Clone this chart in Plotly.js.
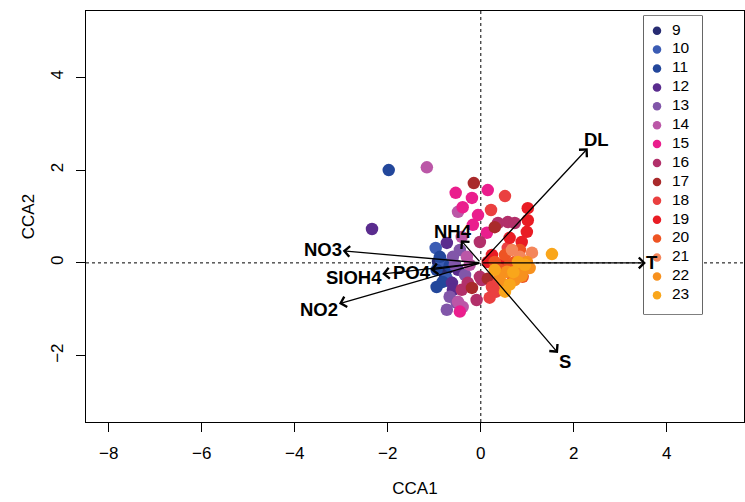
<!DOCTYPE html>
<html><head><meta charset="utf-8">
<script src="https://cdn.plot.ly/plotly-3.0.1.min.js"></script>
<style>html,body{margin:0;padding:0;background:#fff;} #chart{width:745px;height:502px;}</style>
</head><body><div id="chart"></div>
<script>
const groupLabels = ['9','10','11','12','13','14','15','16','17','18','19','20','21','22','23'];
const groupColors = ['#272c72','#3b5cb4','#23479b','#5a2c8e','#8156a9','#bb57a7','#ea1e8d','#b2306a','#a92a2b','#ea4040','#e91c24','#ee5423','#f4865b','#f7911e','#f9a61b'];

const pointGroup = [
 '9','9','9',
 '10','10','10',
 '11','11','11','11','11','11',
 '12','12','12','12','12',
 '13','13','13','13','13','13','13',
 '14','14','14','14','14','14','14',
 '15','15','15','15','15','15','15','15',
 '16','16','16','16','16','16','16','16','16',
 '17','17','17','17',
 '18','18','18','18','18','18','18',
 '19','19','19','19','19','19','19','19',
 '20','20','20','20','20','20','20','20',
 '21','21','21',
 '22','22','22','22','22','22','22','22',
 '23','23','23','23','23','23','23'
];
const pointCCA1 = [
 -0.92,-0.77,-0.71,
 -0.97,-0.84,-0.73,
 -1.98,-0.95,-0.82,-0.95,-0.88,-0.67,
 -2.34,-0.73,-0.62,-0.60,-0.49,
 -0.67,-0.73,-0.52,-0.45,-0.60,-0.34,-0.56,
 -1.16,-0.49,-0.41,-0.30,-0.49,-0.39,-0.24,
 -0.54,-0.19,0.15,-0.39,0.13,-0.45,-0.17,-0.06,
 0.37,0.58,0.73,-0.02,0.02,-0.09,-0.41,-0.02,-0.28,
 -0.15,0.30,-0.19,0.15,
 0.52,0.22,0.24,0.19,0.58,0.37,0.33,
 1.01,1.01,0.99,0.62,0.24,0.41,0.15,0.88,
 0.52,0.73,0.84,0.41,0.62,0.30,0.67,0.90,
 1.10,0.84,0.67,
 0.99,0.56,0.84,0.73,0.41,1.05,0.52,0.88,
 1.53,0.62,0.95,0.52,0.30,0.80,0.70
];
const pointCCA2 = [
 0.02,-0.26,-0.11,
 0.32,0.02,-0.34,
 2.00,-0.15,-0.41,-0.52,0.13,-0.06,
 0.73,0.43,-0.43,-0.58,-0.15,
 -0.73,-1.01,-0.86,0.28,0.13,-0.26,-0.04,
 2.06,1.10,0.56,0.13,-0.84,-0.95,-0.04,
 1.51,1.40,1.57,1.20,0.65,-1.05,0.82,1.03,
 0.86,0.88,0.86,0.45,-0.37,-0.80,-0.58,-0.30,-0.43,
 1.72,0.77,-0.54,-0.34,
 1.44,1.14,-0.52,-0.75,0.32,-0.43,-0.62,
 1.18,0.92,0.67,0.54,0.17,-0.04,0.02,0.45,
 0.17,0.02,0.28,-0.15,-0.04,0.02,-0.26,-0.30,
 0.22,0.13,0.28,
 0.02,-0.19,-0.19,-0.37,-0.30,-0.11,-0.47,-0.28,
 0.19,-0.47,-0.04,-0.62,-0.15,0.02,-0.20
];

const envNames = ['DL','T','S','NO3','SIOH4','PO4','NO2','NH4'];
const envCCA1 = [2.30, 3.55, 1.66, -2.97, -2.12, -1.08, -3.05, -0.43];
const envCCA2 = [2.47, 0.00, -1.94, 0.26, -0.24, -0.15, -0.88, 0.49];

const xTicks = [-8,-6,-4,-2,0,2,4];
const yTicks = [-2,0,2,4];

const xRange = [-8.49, 5.66];
const yRange = [-3.43, 5.43];
const W = 745, H = 502;
const margin = {l:86, r:1, t:11, b:80, pad:0};
const plotW = W - margin.l - margin.r;
const plotH = H - margin.t - margin.b;
const pxX = plotW / (xRange[1]-xRange[0]);
const pxY = plotH / (yRange[1]-yRange[0]);

const traces = groupLabels.map((g, gi) => {
  const xs = [], ys = [];
  pointGroup.forEach((pg, i) => { if (pg === g) { xs.push(pointCCA1[i]); ys.push(pointCCA2[i]); } });
  return {
    type:'scatter', mode:'markers', name:g, x:xs, y:ys, xaxis:'x', yaxis:'y',
    marker:{color:groupColors[gi], size:12.5, line:{width:0}},
    hoverinfo:'skip', showlegend:false
  };
});

// custom legend box (pixel-like coordinates inside its own small axes)
const legBox = {left:644, right:702, top:16, bottom:314};
const legW = legBox.right - legBox.left, legH = legBox.bottom - legBox.top;
const legStep = 18.9, legFirst = 14.7;
const legendDomainX = [(legBox.left - margin.l)/plotW, (legBox.right - margin.l)/plotW];
const legendDomainY = [1 - (legBox.bottom - margin.t)/plotH, 1 - (legBox.top - margin.t)/plotH];
traces.push({
  type:'scatter', mode:'markers', xaxis:'x2', yaxis:'y2', showlegend:false, hoverinfo:'skip',
  x: groupLabels.map(() => 13), y: groupLabels.map((g, i) => legFirst + i*legStep),
  marker:{color:groupColors, size:8.5, line:{width:0}}, cliponaxis:false
});
traces.push({
  type:'scatter', mode:'text', xaxis:'x2', yaxis:'y2', showlegend:false, hoverinfo:'skip',
  x: groupLabels.map(() => 28), y: groupLabels.map((g, i) => legFirst + i*legStep),
  text: groupLabels, textposition:'middle right', cliponaxis:false,
  textfont:{family:'Liberation Sans, Arial, sans-serif', size:15.5, color:'#000'}
});

const labelFont = 'bold 18px "Liberation Sans"';
const cv = document.createElement('canvas').getContext('2d');
cv.font = labelFont;

const annotations = [];
envNames.forEach((nm, i) => {
  annotations.push({
    x: envCCA1[i], y: envCCA2[i], ax: 0, ay: 0,
    xref:'x', yref:'y', axref:'x', ayref:'y',
    showarrow:true, arrowhead:4, arrowsize:1.6, arrowwidth:1.3, arrowcolor:'#000',
    text:'', standoff:0, startstandoff:0
  });
  const dxp = envCCA1[i]*pxX, dyp = envCCA2[i]*pxY;
  const len = Math.hypot(dxp, dyp);
  const ux = dxp/len, uy = dyp/len;
  const hw = cv.measureText(nm).width/2 + 1, hh = 9;
  const t = Math.min(Math.abs(ux) > 1e-6 ? hw/Math.abs(ux) : 1e9, Math.abs(uy) > 1e-6 ? hh/Math.abs(uy) : 1e9);
  annotations.push({
    x: envCCA1[i] + ux*t/pxX, y: envCCA2[i] + uy*t/pxY,
    xref:'x', yref:'y', showarrow:false, text:'<b>'+nm+'</b>',
    xanchor:'center', yanchor:'middle',
    font:{family:'Liberation Sans, Arial, sans-serif', size:18.5, color:'#000'}
  });
});

const layout = {
  width: W, height: H, margin: margin,
  paper_bgcolor:'#fff', plot_bgcolor:'#fff',
  font:{family:'Liberation Sans, Arial, sans-serif', size:17, color:'#000'},
  showlegend:false,
  xaxis:{range:xRange, tickvals:xTicks, ticktext:xTicks.map(v=>v<0?'\u2212'+Math.abs(v):String(v)),
    ticks:'outside', ticklen:9, tickwidth:1, tickcolor:'#000',
    showline:true, mirror:true, linecolor:'#000', linewidth:1.2,
    showgrid:false, zeroline:false, ticklabelstandoff:6,
    title:{text:'CCA1', font:{size:17}, standoff:20}},
  yaxis:{range:yRange, tickvals:yTicks, ticktext:yTicks.map(v=>v<0?'\u2212'+Math.abs(v):String(v)),
    ticks:'outside', ticklen:9, tickwidth:1, tickcolor:'#000', tickangle:-90,
    showline:true, mirror:true, linecolor:'#000', linewidth:1.2,
    showgrid:false, zeroline:false, ticklabelstandoff:6,
    title:{text:'CCA2', font:{size:17}, standoff:9}},
  xaxis2:{domain:legendDomainX, anchor:'y2', range:[0, legW], visible:false, fixedrange:true},
  yaxis2:{domain:legendDomainY, anchor:'x2', range:[legH, 0], visible:false, fixedrange:true},
  shapes:[
    {type:'line', xref:'paper', yref:'y', x0:0, x1:1, y0:0, y1:0, layer:'below', line:{color:'#000', width:1, dash:'dot'}},
    {type:'line', xref:'x', yref:'paper', x0:0, x1:0, y0:0, y1:1, layer:'below', line:{color:'#000', width:1, dash:'dot'}},
    {type:'rect', xref:'paper', yref:'paper', x0:legendDomainX[0], x1:legendDomainX[1], y0:legendDomainY[0], y1:legendDomainY[1],
     layer:'below', fillcolor:'#fff', line:{color:'#000', width:1.2}}
  ],
  annotations: annotations
};

Plotly.newPlot('chart', traces, layout, {displayModeBar:false, staticPlot:true});
</script>
</body></html>
